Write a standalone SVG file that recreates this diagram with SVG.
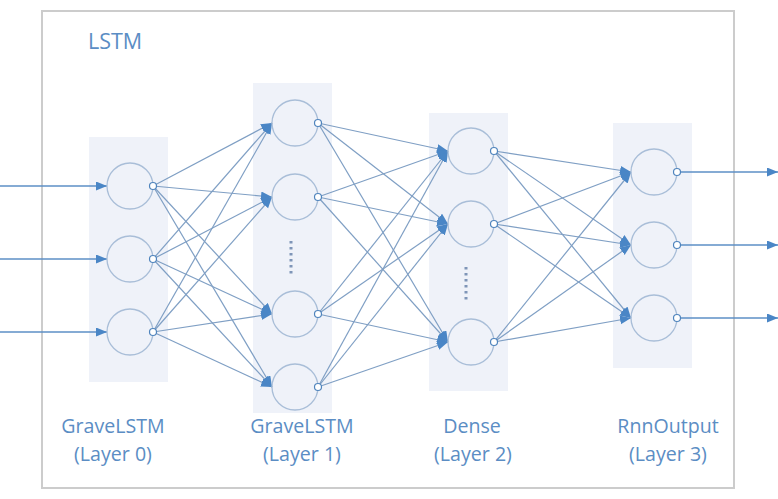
<svg xmlns="http://www.w3.org/2000/svg" width="778" height="499" viewBox="0 0 778 499">
<defs>
<marker id="ah" markerUnits="userSpaceOnUse" markerWidth="13" markerHeight="11" refX="11" refY="4.5" orient="auto">
<path d="M0,0 L11,4.5 L0,9 Z" fill="#4a86c6"/>
</marker>
<style>
.frame{fill:#fff;stroke:#cccccc;stroke-width:2}
.col{fill:#eff2f9}
.node{fill:none;stroke:#a9bed8;stroke-width:1.3}
.port{fill:#fff;stroke:#4f84bd;stroke-width:1.2}
.ln{stroke:#7f9fc4;stroke-width:1.2;fill:none;marker-end:url(#ah)}
.io{stroke:#5d8fc6;stroke-width:1.3;fill:none;marker-end:url(#ah)}
.dots{stroke:#7f95b8;stroke-width:3;stroke-dasharray:2.5 3.5}
.lbl{font-family:"Open Sans","Noto Sans",sans-serif;font-size:19.6px;fill:#5b8dc4;text-anchor:middle}
.title{font-family:"Open Sans","Noto Sans",sans-serif;font-size:21.5px;fill:#5b8dc4}
</style>
</defs>
<rect class="frame" x="42" y="11" width="692" height="477"/>
<text class="title" x="88" y="49">LSTM</text>

<g id="col0"><rect class="col" x="89" y="137" width="79" height="245"/></g>
<g id="col1"><rect class="col" x="253" y="83" width="79" height="330"/></g>
<g id="col2"><rect class="col" x="429" y="113" width="79" height="278"/></g>
<g id="col3"><rect class="col" x="613" y="123" width="79" height="245"/></g>

<g id="connectors">
<line class="io" x1="0" y1="186" x2="107" y2="186"/>
<line class="io" x1="0" y1="259" x2="107" y2="259"/>
<line class="io" x1="0" y1="332" x2="107" y2="332"/>
<line class="ln" x1="153" y1="186" x2="272" y2="123"/>
<line class="ln" x1="153" y1="186" x2="272" y2="197"/>
<line class="ln" x1="153" y1="186" x2="272" y2="314"/>
<line class="ln" x1="153" y1="186" x2="272" y2="387"/>
<line class="ln" x1="153" y1="259" x2="272" y2="123"/>
<line class="ln" x1="153" y1="259" x2="272" y2="197"/>
<line class="ln" x1="153" y1="259" x2="272" y2="314"/>
<line class="ln" x1="153" y1="259" x2="272" y2="387"/>
<line class="ln" x1="153" y1="332" x2="272" y2="123"/>
<line class="ln" x1="153" y1="332" x2="272" y2="197"/>
<line class="ln" x1="153" y1="332" x2="272" y2="314"/>
<line class="ln" x1="153" y1="332" x2="272" y2="387"/>
<line class="ln" x1="318" y1="123" x2="448" y2="151"/>
<line class="ln" x1="318" y1="123" x2="448" y2="224"/>
<line class="ln" x1="318" y1="123" x2="448" y2="342"/>
<line class="ln" x1="318" y1="197" x2="448" y2="151"/>
<line class="ln" x1="318" y1="197" x2="448" y2="224"/>
<line class="ln" x1="318" y1="197" x2="448" y2="342"/>
<line class="ln" x1="318" y1="314" x2="448" y2="151"/>
<line class="ln" x1="318" y1="314" x2="448" y2="224"/>
<line class="ln" x1="318" y1="314" x2="448" y2="342"/>
<line class="ln" x1="318" y1="387" x2="448" y2="151"/>
<line class="ln" x1="318" y1="387" x2="448" y2="224"/>
<line class="ln" x1="318" y1="387" x2="448" y2="342"/>
<line class="ln" x1="494" y1="151" x2="631" y2="172"/>
<line class="ln" x1="494" y1="151" x2="631" y2="245"/>
<line class="ln" x1="494" y1="151" x2="631" y2="318"/>
<line class="ln" x1="494" y1="224" x2="631" y2="172"/>
<line class="ln" x1="494" y1="224" x2="631" y2="245"/>
<line class="ln" x1="494" y1="224" x2="631" y2="318"/>
<line class="ln" x1="494" y1="342" x2="631" y2="172"/>
<line class="ln" x1="494" y1="342" x2="631" y2="245"/>
<line class="ln" x1="494" y1="342" x2="631" y2="318"/>
<line class="io" x1="677" y1="172" x2="778" y2="172"/>
<line class="io" x1="677" y1="245" x2="778" y2="245"/>
<line class="io" x1="677" y1="318" x2="778" y2="318"/>
</g>

<g id="l0n0"><circle class="node" cx="130" cy="186" r="23"/><circle class="port" cx="153" cy="186" r="3.5"/></g>
<g id="l0n1"><circle class="node" cx="130" cy="259" r="23"/><circle class="port" cx="153" cy="259" r="3.5"/></g>
<g id="l0n2"><circle class="node" cx="130" cy="332" r="23"/><circle class="port" cx="153" cy="332" r="3.5"/></g>

<g id="l1n0"><circle class="node" cx="295" cy="123" r="23"/><circle class="port" cx="318" cy="123" r="3.5"/></g>
<g id="l1n1"><circle class="node" cx="295" cy="197" r="23"/><circle class="port" cx="318" cy="197" r="3.5"/></g>
<g id="l1dots"><line class="dots" x1="291" y1="241" x2="291" y2="274"/></g>
<g id="l1n2"><circle class="node" cx="295" cy="314" r="23"/><circle class="port" cx="318" cy="314" r="3.5"/></g>
<g id="l1n3"><circle class="node" cx="295" cy="387" r="23"/><circle class="port" cx="318" cy="387" r="3.5"/></g>

<g id="l2n0"><circle class="node" cx="471" cy="151" r="23"/><circle class="port" cx="494" cy="151" r="3.5"/></g>
<g id="l2n1"><circle class="node" cx="471" cy="224" r="23"/><circle class="port" cx="494" cy="224" r="3.5"/></g>
<g id="l2dots"><line class="dots" x1="466" y1="267" x2="466" y2="300"/></g>
<g id="l2n2"><circle class="node" cx="471" cy="342" r="23"/><circle class="port" cx="494" cy="342" r="3.5"/></g>

<g id="l3n0"><circle class="node" cx="654" cy="172" r="23"/><circle class="port" cx="677" cy="172" r="3.5"/></g>
<g id="l3n1"><circle class="node" cx="654" cy="245" r="23"/><circle class="port" cx="677" cy="245" r="3.5"/></g>
<g id="l3n2"><circle class="node" cx="654" cy="318" r="23"/><circle class="port" cx="677" cy="318" r="3.5"/></g>

<g id="labels">
<text class="lbl" x="113" y="433">GraveLSTM</text>
<text class="lbl" x="113" y="461">(Layer 0)</text>
<text class="lbl" x="302" y="433">GraveLSTM</text>
<text class="lbl" x="302" y="461">(Layer 1)</text>
<text class="lbl" x="472" y="433">Dense</text>
<text class="lbl" x="473" y="461">(Layer 2)</text>
<text class="lbl" x="668" y="433">RnnOutput</text>
<text class="lbl" x="668" y="461">(Layer 3)</text>
</g>
</svg>
